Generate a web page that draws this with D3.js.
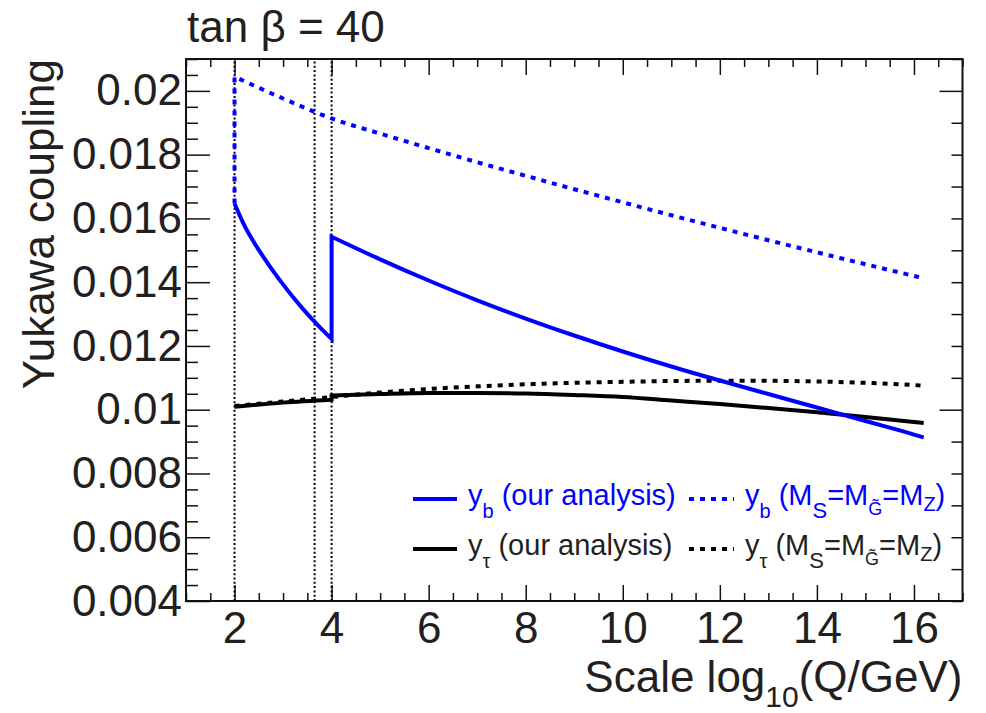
<!DOCTYPE html>
<html><head><meta charset="utf-8">
<script src="https://cdn.jsdelivr.net/npm/d3@7"></script>
<style>
body{margin:0;background:#fff}
svg{display:block}
text{font-family:"Liberation Sans",Arial,Helvetica,sans-serif;fill:#231f20}
</style>
</head><body>
<svg id="c" width="986" height="713"></svg>
<script>
// ---- data ----
const xTickValues = [2, 4, 6, 8, 10, 12, 14, 16];
const xTickLabels = ["2", "4", "6", "8", "10", "12", "14", "16"];
const yTickValues = [0.004, 0.006, 0.008, 0.010, 0.012, 0.014, 0.016, 0.018, 0.020];
const yTickLabels = ["0.004", "0.006", "0.008", "0.01", "0.012", "0.014", "0.016", "0.018", "0.02"];
const thresholdScales = [2, 3.65, 4];

// y_b (our analysis)
const ybOursX = [2.0, 2.2, 2.4, 2.6, 2.8, 3.0, 3.2, 3.4, 3.6, 3.8, 4.0,
  4.0, 5, 6, 7, 8, 9, 10, 11, 12, 13, 14, 15, 16, 16.2];
const ybOursY = [0.01647, 0.01579, 0.01525, 0.01478, 0.01434, 0.01393, 0.01354, 0.01318, 0.01284, 0.01252, 0.01222,
  0.015426, 0.014717, 0.014052, 0.013431, 0.01286, 0.012327, 0.011825, 0.011354, 0.010915, 0.010492, 0.010068, 0.009645, 0.009221, 0.009127];
// y_b (M_S = M_G~ = M_Z)
const ybMzX = [2, 2, 3, 4, 5, 6, 7, 8, 9, 10, 11, 12, 13, 14, 15, 16, 16.2];
const ybMzY = [0.01647, 0.020445, 0.019761, 0.019134, 0.01866, 0.018205, 0.017763, 0.017336, 0.016916, 0.016505,
  0.0161, 0.015705, 0.015316, 0.014937, 0.014563, 0.014196, 0.014124];
// y_tau (our analysis)
const ytOursX = [2, 3, 4, 4, 5, 6, 7, 8, 9, 10, 11, 12, 13, 14, 15, 16, 16.2];
const ytOursY = [0.010093, 0.010222, 0.010313, 0.010445, 0.010492, 0.010523, 0.010523, 0.010507, 0.01046, 0.010398,
  0.010288, 0.010178, 0.010053, 0.009918, 0.00977, 0.009614, 0.009582];
// y_tau (M_S = M_G~ = M_Z)
const ytMzX = [2, 3, 4, 5, 6, 7, 8, 9, 10, 11, 12, 13, 14, 15, 16, 16.2];
const ytMzY = [0.010115, 0.010257, 0.010398, 0.010539, 0.010649, 0.010733, 0.010796, 0.010843, 0.010875, 0.0109,
  0.010909, 0.010906, 0.010884, 0.010843, 0.010774, 0.010755];

// ---- chart ----
const svg = d3.select("#c");
const L = 186, R = 962.5, T = 59, B = 601;
const x = d3.scaleLinear().domain([1, 17]).range([L, R]);
const y = d3.scaleLinear().domain([0.004, 0.021]).range([B, T]);
const INK = "#111";
const FONT = "\"Liberation Sans\",Arial,Helvetica,sans-serif";

function styleAxis(g) {
  g.select(".domain").remove();
  g.selectAll("line").attr("stroke", INK).attr("stroke-width", 1.5);
  g.attr("font-family", FONT).attr("font-size", 44);
}
const xMinor = x.ticks(32).filter(v => xTickValues.indexOf(v) < 0);
const yMinor = y.ticks(34).filter(v => !yTickValues.some(t => Math.abs(t - v) < 1e-9));
const yRightMajor = [0.01, 0.02];
const yRightMinor = y.ticks(17).filter(v => !yRightMajor.some(t => Math.abs(t - v) < 1e-9));

// bottom
svg.append("g").attr("transform", `translate(0,${B})`)
  .call(d3.axisBottom(x).tickValues(xTickValues).tickSize(-16).tickPadding(11)
    .tickFormat((d, i) => xTickLabels[i])).call(styleAxis);
svg.append("g").attr("transform", `translate(0,${B})`)
  .call(d3.axisBottom(x).tickValues(xMinor).tickSize(-8).tickFormat("")).call(styleAxis);
// top
svg.append("g").attr("transform", `translate(0,${T})`)
  .call(d3.axisTop(x).tickValues(xTickValues).tickSize(-16).tickFormat("")).call(styleAxis);
svg.append("g").attr("transform", `translate(0,${T})`)
  .call(d3.axisTop(x).tickValues(xMinor).tickSize(-8).tickFormat("")).call(styleAxis);
// left
svg.append("g").attr("transform", `translate(${L},0)`)
  .call(d3.axisLeft(y).tickValues(yTickValues).tickSize(-24).tickPadding(4)
    .tickFormat((d, i) => yTickLabels[i])).call(styleAxis);
svg.append("g").attr("transform", `translate(${L},0)`)
  .call(d3.axisLeft(y).tickValues(yMinor).tickSize(-12).tickFormat("")).call(styleAxis);
// right
svg.append("g").attr("transform", `translate(${R},0)`)
  .call(d3.axisRight(y).tickValues(yRightMajor).tickSize(-23).tickFormat("")).call(styleAxis);
svg.append("g").attr("transform", `translate(${R},0)`)
  .call(d3.axisRight(y).tickValues(yRightMinor).tickSize(-11).tickFormat("")).call(styleAxis);

// frame
svg.append("rect").attr("x", L).attr("y", T).attr("width", R - L).attr("height", B - T)
  .attr("fill", "none").attr("stroke", INK).attr("stroke-width", 2);

// threshold lines
svg.append("g").selectAll("line").data(thresholdScales).join("line")
  .attr("x1", d => x(d)).attr("x2", d => x(d)).attr("y1", B).attr("y2", T)
  .attr("stroke", "#000").attr("stroke-width", 2).attr("stroke-dasharray", "2,2.3");

// curves: smooth within segments, straight vertical jumps where x repeats
const smooth = d3.line().x(d => x(d[0])).y(d => y(d[1])).curve(d3.curveMonotoneX);
function seriesPath(xs, ys) {
  const pts = xs.map((v, i) => [v, ys[i]]);
  const segs = [[]];
  pts.forEach((p, i) => {
    if (i > 0 && p[0] === pts[i - 1][0]) segs.push([]);
    segs[segs.length - 1].push(p);
  });
  let d = "";
  segs.forEach((s, k) => {
    const part = s.length > 1 ? smooth(s) : `M${x(s[0][0])},${y(s[0][1])}`;
    d += k === 0 ? part : "L" + part.slice(1);
  });
  return d;
}
const series = [
  { xs: ytMzX, ys: ytMzY, color: "#000", dash: "5,6" },
  { xs: ytOursX, ys: ytOursY, color: "#000", dash: null },
  { xs: ybMzX, ys: ybMzY, color: "#0000ff", dash: "5,6" },
  { xs: ybOursX, ys: ybOursY, color: "#0000ff", dash: null },
];
const plot = svg.append("g");
series.forEach(s => {
  plot.append("path").attr("d", seriesPath(s.xs, s.ys))
    .attr("fill", "none").attr("stroke", s.color).attr("stroke-width", 4)
    .attr("stroke-linejoin", "miter")
    .attr("stroke-dasharray", s.dash);
});

// legend
function richText(px, py, parts, color) {
  const t = svg.append("text").attr("x", px).attr("y", py).attr("font-size", 29)
    .style("fill", color);
  let shifted = 0;
  parts.forEach(p => {
    const ts = t.append("tspan").text(p[0]);
    if (p[1]) {
      const dy = p[2] || 12;
      ts.attr("font-size", p[3] || 20).attr("dy", dy - shifted);
      shifted = dy;
    } else {
      ts.attr("dy", -shifted);
      shifted = 0;
    }
  });
  return t;
}
const legendRows = [
  { yc: 499, color: "#0000ff", sub: "b" },
  { yc: 549, color: "#000000", sub: "\u03c4" },
];
legendRows.forEach(r => {
  const tc = r.color === "#000000" ? "#231f20" : r.color;
  svg.append("line").attr("x1", 413).attr("x2", 457).attr("y1", r.yc).attr("y2", r.yc)
    .attr("stroke", r.color).attr("stroke-width", 4);
  svg.append("line").attr("x1", 689).attr("x2", 734).attr("y1", r.yc).attr("y2", r.yc)
    .attr("stroke", r.color).attr("stroke-width", 4).attr("stroke-dasharray", "5,6");
  richText(468, r.yc + 6, [["y"], [r.sub, true, 13], ["\u00a0(our analysis)"]], tc);
  richText(745, r.yc + 6, [["y"], [r.sub, true, 13], ["\u00a0(M"], ["S", true, 13, 22], ["=M"],
    ["G\u0303", true, 10, 18], ["=M"], ["Z", true, 6, 20], [")"]], tc);
});

// titles
svg.append("text").attr("x", 187).attr("y", 42).attr("font-size", 44).text("tan \u03b2 = 40");
svg.append("text").attr("transform", `translate(54,${T}) rotate(-90)`)
  .attr("text-anchor", "end").attr("font-size", 44).text("Yukawa coupling");
const xt = svg.append("text").attr("x", R).attr("y", 692).attr("text-anchor", "end").attr("font-size", 44);
xt.append("tspan").text("Scale log");
xt.append("tspan").attr("font-size", 30).attr("dy", 15).text("10");
xt.append("tspan").attr("dy", -15).text("(Q/GeV)");
</script>
</body></html>
